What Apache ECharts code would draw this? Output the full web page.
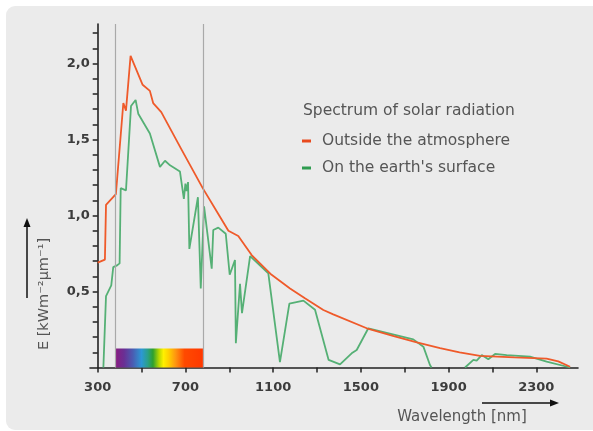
<!DOCTYPE html>
<html>
<head>
<meta charset="utf-8">
<script src="https://cdn.jsdelivr.net/npm/echarts@6/dist/echarts.min.js"></script>
<style>
html,body{margin:0;padding:0;background:#ffffff;}
#c{width:593px;height:431px;}
</style>
</head>
<body>
<div id="c"></div>
<script>
// ---- data ----
const outsideNm = [300, 333, 338, 383, 417, 429, 450, 505, 538, 553, 590, 680, 779, 850, 896, 941, 1002, 1093, 1177, 1245, 1329, 1374, 1527, 1650, 1755, 1861, 1950, 2043, 2200, 2347, 2400, 2454];
const outsideE  = [0.69, 0.71, 1.07, 1.14, 1.74, 1.69, 2.05, 1.86, 1.82, 1.74, 1.68, 1.44, 1.18, 1.01, 0.90, 0.865, 0.74, 0.61, 0.52, 0.455, 0.378, 0.35, 0.258, 0.207, 0.165, 0.128, 0.10, 0.077, 0.066, 0.058, 0.04, 0.005];

const surfaceNm = [326, 338, 362, 371, 386, 400, 405, 414, 429, 452, 473, 485, 538, 584, 607, 630, 675, 693, 700, 705, 712, 718, 757, 770, 785, 820, 827, 850, 884, 902, 926, 930, 949, 958, 995, 1078, 1131, 1174, 1238, 1291, 1353, 1405, 1458, 1481, 1534, 1739, 1785, 1815, 1822, 1900, 1975, 2013, 2028, 2051, 2081, 2112, 2165, 2271, 2347, 2454];
const surfaceE  = [0, 0.47, 0.54, 0.66, 0.67, 0.685, 1.18, 1.19, 1.165, 1.72, 1.76, 1.67, 1.54, 1.32, 1.36, 1.33, 1.29, 1.11, 1.21, 1.16, 1.22, 0.78, 1.12, 0.52, 1.06, 0.65, 0.905, 0.92, 0.88, 0.61, 0.707, 0.16, 0.55, 0.357, 0.733, 0.62, 0.035, 0.42, 0.44, 0.38, 0.05, 0.02, 0.093, 0.115, 0.258, 0.185, 0.137, 0.016, 0, null, 0, 0.05, 0.045, 0.082, 0.054, 0.089, 0.082, 0.071, 0.038, 0];

const xTickValues  = [300, 500, 700, 900, 1100, 1300, 1500, 1700, 1900, 2100, 2300];
const xLabelValues = [300, 700, 1100, 1500, 1900, 2300];
const yTickValues  = [0.1, 0.2, 0.3, 0.4, 0.5, 0.6, 0.7, 0.8, 0.9, 1.0, 1.1, 1.2, 1.3, 1.4, 1.5, 1.6, 1.7, 1.8, 1.9, 2.0, 2.1, 2.2];
const yLabelValues = [0.5, 1.0, 1.5, 2.0];

const visibleRange = [380, 780];
const visibleBarTop = 0.125;

const seriesNames = ['Outside the atmosphere', "On the earth's surface"];
const legendTitle = 'Spectrum of solar radiation';
const xTitle = 'Wavelength [nm]';
const yTitle = 'E [kWm⁻²µm⁻¹]';

// ---- chart ----
const FONT = '"DejaVu Sans", sans-serif';
const RED = '#ef5a2a', GREEN = '#55b075';
const chart = echarts.init(document.getElementById('c'), null, {renderer: 'canvas'});

const outsideData = outsideNm.map((x, i) => [x, outsideE[i]]);
const surfaceData = surfaceNm.map((x, i) => [x, surfaceE[i]]);

const spectrumGradient = new echarts.graphic.LinearGradient(0, 0, 1, 0, [
  {offset: 0.00, color: '#8a1c80'},
  {offset: 0.10, color: '#6a2f94'},
  {offset: 0.20, color: '#4a5cb2'},
  {offset: 0.30, color: '#2c98d4'},
  {offset: 0.37, color: '#2aa089'},
  {offset: 0.43, color: '#2ea02e'},
  {offset: 0.50, color: '#b8d800'},
  {offset: 0.55, color: '#fff000'},
  {offset: 0.61, color: '#ffcf00'},
  {offset: 0.69, color: '#ff9410'},
  {offset: 0.79, color: '#ff4a00'},
  {offset: 1.00, color: '#ff3800'}
]);

chart.setOption({
  animation: false,
  backgroundColor: 'transparent',
  grid: {left: 90, right: 15, top: 24, bottom: 63.5, containLabel: false},
  xAxis: {
    type: 'value', min: 265, max: 2490,
    axisLine: {show: true, lineStyle: {color: '#222', width: 1.6}},
    axisTick: {show: true, length: 5, lineStyle: {color: '#222', width: 1.5}, customValues: xTickValues},
    axisLabel: {customValues: xLabelValues, margin: 14, fontFamily: FONT, fontSize: 13, fontWeight: 'bold', color: '#3c3c3c',
      formatter: v => String(Math.round(v))},
    splitLine: {show: false}
  },
  yAxis: {
    type: 'value', min: 0, max: 2.26, offset: -7.7,
    axisLine: {show: true, lineStyle: {color: '#222', width: 1.6}},
    axisTick: {show: true, length: 5, lineStyle: {color: '#222', width: 1.5}, customValues: yTickValues},
    axisLabel: {customValues: yLabelValues, margin: 8, fontFamily: FONT, fontSize: 13, fontWeight: 'bold', color: '#3c3c3c',
      formatter: v => v.toFixed(1).replace('.', ',')},
    splitLine: {show: false}
  },
  legend: {
    orient: 'vertical', left: 297, top: 128, itemGap: 11,
    icon: 'rect', itemWidth: 9, itemHeight: 3,
    textStyle: {fontFamily: FONT, fontSize: 15.5, color: '#555', padding: [0, 0, 0, 6]},
    data: [
      {name: seriesNames[0], itemStyle: {color: '#e84a1e'}},
      {name: seriesNames[1], itemStyle: {color: '#2f9c50'}}
    ],
    selectedMode: false
  },
  graphic: [
    {type: 'rect', z: -100, silent: true, shape: {x: 6, y: 6, width: 600, height: 424, r: 9}, style: {fill: '#ebebeb'}},
    {type: 'text', left: 303, top: 103, style: {text: legendTitle, font: '15.5px "DejaVu Sans", sans-serif', fill: '#555'}},
    {type: 'text', x: 44, y: 294, rotation: Math.PI / 2, style: {text: yTitle, font: '14.5px "DejaVu Sans", sans-serif', fill: '#555', textAlign: 'center', textVerticalAlign: 'middle'}},
    {type: 'text', x: 462, y: 417, style: {text: xTitle, font: '15px "DejaVu Sans", sans-serif', fill: '#555', textAlign: 'center', textVerticalAlign: 'middle'}},
    {type: 'line', shape: {x1: 27, y1: 298, x2: 27, y2: 226}, style: {stroke: '#111', lineWidth: 1.5}},
    {type: 'polygon', shape: {points: [[27, 218], [23.5, 227], [30.5, 227]]}, style: {fill: '#111'}},
    {type: 'line', shape: {x1: 482, y1: 403, x2: 551, y2: 403}, style: {stroke: '#111', lineWidth: 1.5}},
    {type: 'polygon', shape: {points: [[559, 403], [550, 399.5], [550, 406.5]]}, style: {fill: '#111'}}
  ],
  series: [
    {
      type: 'custom', name: 'visible', silent: true, z: 1,
      data: [[visibleRange[0], visibleRange[1], visibleBarTop]],
      encode: {x: [0, 1], y: 2},
      renderItem: (params, api) => {
        const p0 = api.coord([api.value(0), 0]);
        const p1 = api.coord([api.value(1), api.value(2)]);
        return {type: 'rect', shape: {x: p0[0], y: p1[1], width: p1[0] - p0[0], height: p0[1] - p1[1]}, style: {fill: spectrumGradient}};
      },
      markLine: {
        silent: true, symbol: ['none', 'none'], label: {show: false},
        lineStyle: {color: '#a9a9a9', width: 1.2, type: 'solid'},
        data: visibleRange.map(v => ({xAxis: v}))
      }
    },
    {
      type: 'line', name: seriesNames[0], data: outsideData, showSymbol: false, symbol: 'none',
      color: RED, lineStyle: {color: RED, width: 1.8}, z: 3, connectNulls: false
    },
    {
      type: 'line', name: seriesNames[1], data: surfaceData, showSymbol: false, symbol: 'none',
      color: GREEN, lineStyle: {color: GREEN, width: 1.8}, z: 2, connectNulls: false
    }
  ]
});
</script>
</body>
</html>
